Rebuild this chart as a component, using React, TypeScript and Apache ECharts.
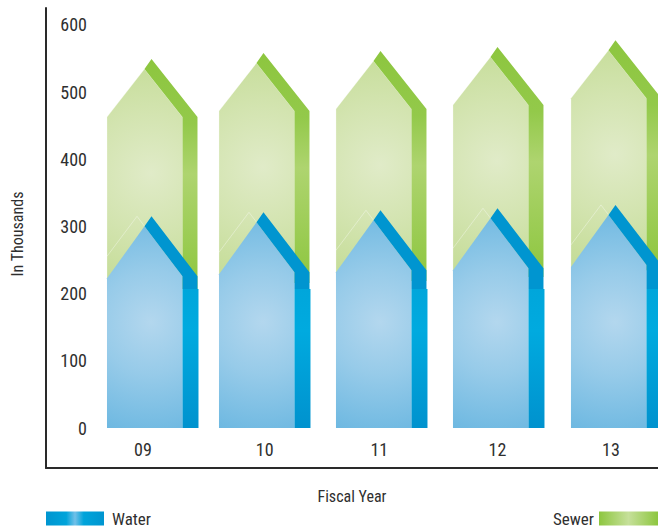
import React, { useEffect, useRef } from "react";
import * as echarts from "echarts";

const fiscalYears = ["09", "10", "11", "12", "13"];
const yearValues = [9, 10, 11, 12, 13];
const labelTicks = [9, 10.04, 11.02, 12.03, 13];
const waterTips = [315, 321, 324, 327, 332];
const sewerTips = [549, 558, 561, 567, 577];
const yTicks = [0, 100, 200, 300, 400, 500, 600];
const columnShift = [-36, -41, -41, -41, -40];
const waterSideStep = 207;

const FONT = "'Roboto Condensed', Roboto, sans-serif";
const TEXT = "#2f2f2f";

const makeRender = (kind: "water" | "sewer") => (params: any, api: any) => {
  const year = api.value(0);
  const tip = api.coord([year, api.value(1)]);
  const base = api.coord([year, 0]);
  const i = params.dataIndex;
  const left = tip[0] + columnShift[i];
  const frontRight = left + 75.5;
  const sideRight = frontRight + 15;
  const apexX = left + 37.5;
  const tipX = left + 44.5;
  const tipY = tip[1];
  const apexY = tipY + 10;
  const water = kind === "water";
  const shoulderY = tipY + (water ? 60 : 58);
  const leftShoulderY = tipY + (water ? 62 : 58);
  const bottom = water ? base[1] : tipY + 230;
  const cy = water ? base[1] - 106 : tipY + 114;
  const stepY = api.coord([year, waterSideStep])[1];

  const frontFill = new echarts.graphic.RadialGradient(
    left + 44, cy, water ? 115 : 120,
    water
      ? [{ offset: 0, color: "#b3d7ee" }, { offset: 0.45, color: "#97cbe9" }, { offset: 1, color: "#6db8e1" }]
      : [{ offset: 0, color: "#e0ebc8" }, { offset: 0.5, color: "#d3e4b0" }, { offset: 1, color: "#c4dc96" }],
    true
  );
  const sideFill = water
    ? "#0095d0"
    : new echarts.graphic.LinearGradient(
        0, tipY, 0, tipY + 230,
        [{ offset: 0, color: "#8dc63f" }, { offset: 0.28, color: "#93c94a" }, { offset: 0.5, color: "#aed46f" }, { offset: 1, color: "#8dc63f" }],
        true
      );

  const children: any[] = [];
  if (water) {
    children.push({
      type: "polyline",
      shape: { points: [[left, leftShoulderY - 22], [left + 30, tipY], [frontRight, shoulderY]] },
      style: { stroke: "rgba(255,255,255,0.35)", lineWidth: 1, fill: "none" },
    });
  }
  children.push({
    type: "polygon",
    shape: { points: [[left, bottom], [left, leftShoulderY], [apexX, apexY], [frontRight, shoulderY], [frontRight, bottom]] },
    style: { fill: frontFill, stroke: water ? "none" : "rgba(255,255,255,0.25)", lineWidth: 1 },
  });
  children.push({
    type: "polygon",
    shape: {
      points: [[apexX, apexY], [tipX, tipY], [sideRight, shoulderY], [sideRight, water ? stepY : bottom], [frontRight, water ? stepY : bottom], [frontRight, shoulderY]],
    },
    style: { fill: sideFill },
  });
  if (water) {
    children.push({
      type: "rect",
      shape: { x: frontRight, y: stepY, width: sideRight + 1 - frontRight, height: bottom - stepY },
      style: {
        fill: new echarts.graphic.LinearGradient(
          0, stepY, 0, bottom,
          [{ offset: 0, color: "#00a6db" }, { offset: 0.3, color: "#00aadf" }, { offset: 1, color: "#0092ce" }],
          true
        ),
      },
    });
  }
  return { type: "group", children };
};

const toData = (values: number[]) => values.map((v, i) => [yearValues[i], v]);

export default function App() {
  const ref = useRef<HTMLDivElement>(null);
  useEffect(() => {
    const chart = echarts.init(ref.current!, undefined, { renderer: "svg" });
    const blueLegend = new echarts.graphic.LinearGradient(0, 0, 1, 0, [
      { offset: 0, color: "#0095d0" },
      { offset: 0.35, color: "#00a4da" },
      { offset: 0.5, color: "#72c0e8" },
      { offset: 0.65, color: "#00a4da" },
      { offset: 1, color: "#0095d0" },
    ]);
    const greenLegend = new echarts.graphic.LinearGradient(0, 0, 1, 0, [
      { offset: 0, color: "#8dc63f" },
      { offset: 0.5, color: "#c6e09a" },
      { offset: 1, color: "#8dc63f" },
    ]);
    const legendText = { color: TEXT, fontFamily: FONT, fontSize: 17 };
    chart.setOption({
      animation: false,
      backgroundColor: "#ffffff",
      grid: { left: 46, right: 0, top: 8, height: 460, containLabel: false, outerBoundsMode: "none" },
      xAxis: {
        type: "value",
        min: 8.171,
        max: 13.402,
        name: "Fiscal Year",
        nameLocation: "middle",
        nameGap: 20,
        nameTextStyle: { color: TEXT, fontFamily: FONT, fontSize: 16 },
        axisLine: { show: true, onZero: false, lineStyle: { color: "#2a2a2a", width: 2 } },
        axisTick: { show: false },
        splitLine: { show: false },
        axisLabel: {
          inside: true,
          margin: 10,
          customValues: labelTicks,
          color: TEXT,
          fontFamily: FONT,
          fontSize: 18,
          formatter: (v: number) => fiscalYears[Math.round(v) - 9],
        },
      },
      yAxis: {
        type: "value",
        min: -59.5,
        max: 625,
        name: "In Thousands",
        nameLocation: "middle",
        nameGap: 21,
        nameTextStyle: { color: TEXT, fontFamily: FONT, fontSize: 16, padding: [0, 0, 0, 8] },
        axisLine: { show: true, onZero: false, lineStyle: { color: "#2a2a2a", width: 2 } },
        axisTick: { show: false },
        splitLine: { show: false },
        axisLabel: {
          inside: true,
          align: "right",
          margin: 41,
          customValues: yTicks,
          color: TEXT,
          fontFamily: FONT,
          fontSize: 18,
        },
      },
      legend: [
        {
          left: 46,
          top: 510,
          padding: 0,
          itemWidth: 58,
          itemHeight: 14,
          itemGap: 0,
          selectedMode: false,
          textStyle: { ...legendText, padding: [0, 0, 0, 3] },
          data: [{ name: "Water", icon: "rect", itemStyle: { color: blueLegend } }],
        },
        {
          right: 0,
          top: 510,
          padding: 0,
          itemWidth: 59,
          itemHeight: 14,
          itemGap: 0,
          align: "right",
          selectedMode: false,
          textStyle: legendText,
          data: [{ name: "Sewer", icon: "rect", itemStyle: { color: greenLegend } }],
        },
      ],
      series: [
        {
          name: "Sewer",
          type: "custom",
          clip: false,
          encode: { x: 0, y: 1 },
          renderItem: makeRender("sewer"),
          data: toData(sewerTips),
        },
        {
          name: "Water",
          type: "custom",
          clip: false,
          encode: { x: 0, y: 1 },
          renderItem: makeRender("water"),
          data: toData(waterTips),
        },
      ],
    });
    return () => chart.dispose();
  }, []);
  return <div ref={ref} style={{ position: "absolute", left: 0, top: 0, width: 658, height: 532 }} />;
}
